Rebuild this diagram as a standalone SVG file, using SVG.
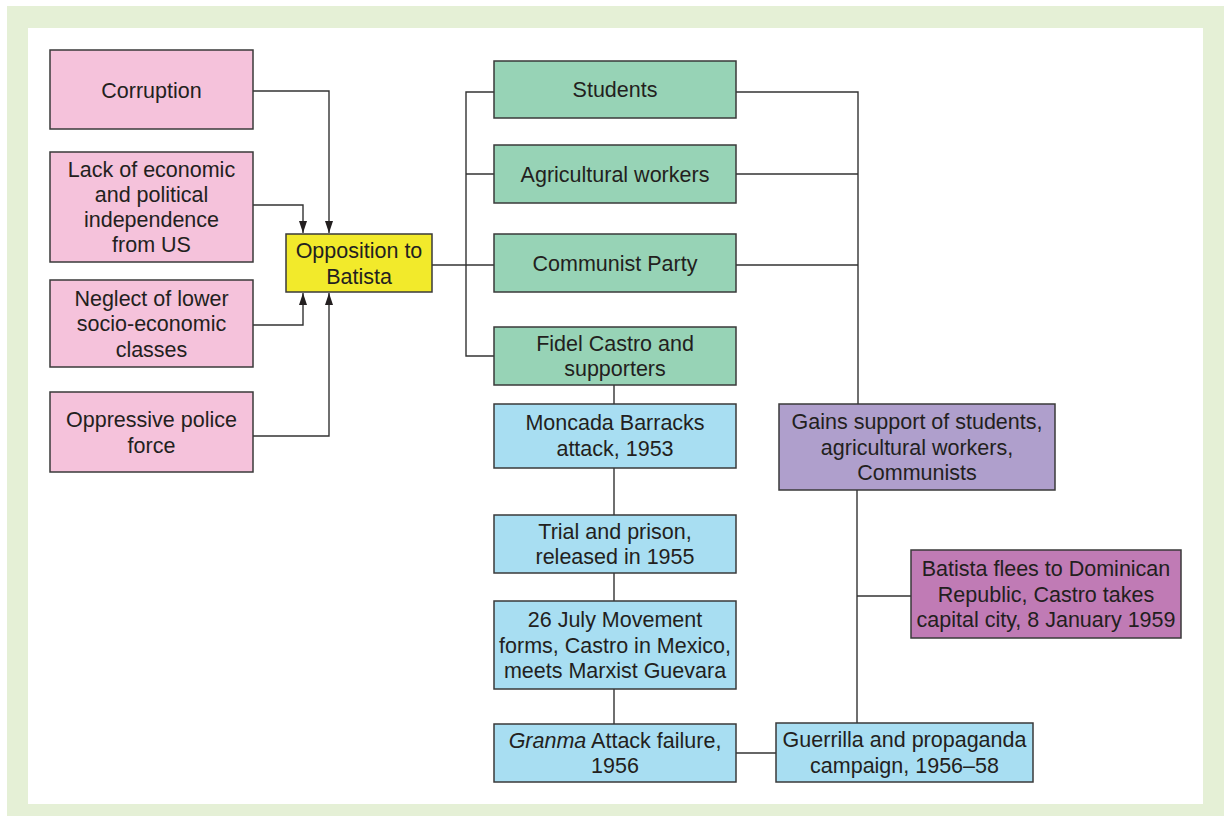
<svg xmlns="http://www.w3.org/2000/svg" width="1226" height="816" viewBox="0 0 1226 816">
<defs>
<style>
.box{stroke:#3a3a3a;stroke-width:1.5}
.pink{fill:#f5c2db}
.yellow{fill:#f2ea2b}
.green{fill:#97d3b6}
.blue{fill:#a8def2}
.purple{fill:#af9fcc}
.magenta{fill:#c07bb5}
.t{font-family:"Liberation Sans",Arial,sans-serif;font-size:21.5px;fill:#231f20;text-anchor:middle}
.c{fill:none;stroke:#333;stroke-width:1.4}
</style>
<marker id="ah" viewBox="0 0 12 8" refX="12" refY="4" markerWidth="12" markerHeight="8" markerUnits="userSpaceOnUse" orient="auto">
<path d="M0,0 L12,4 L0,8 z" fill="#231f20"/>
</marker>
</defs>
<rect x="7" y="6" width="1217" height="810" fill="#e5f0d6"/>
<rect x="28" y="28" width="1175" height="776" fill="#ffffff"/>

<g id="connectors">
<path class="c" d="M253,91 H329 V233" marker-end="url(#ah)"/>
<path class="c" d="M253,205 H303 V233" marker-end="url(#ah)"/>
<path class="c" d="M253,325 H303 V293" marker-end="url(#ah)"/>
<path class="c" d="M253,436 H329 V293" marker-end="url(#ah)"/>
<path class="c" d="M432,265 H494"/>
<path class="c" d="M494,92 H466 V356 H494 M466,174 H494"/>
<path class="c" d="M736,92 H858 V404 M736,174 H858 M736,265 H858"/>
<path class="c" d="M614,385 V404 M614,468 V515 M614,573 V601 M614,689 V724"/>
<path class="c" d="M736,753 H776"/>
<path class="c" d="M857,490 V723 M857,596 H911"/>
</g>

<g id="corruption">
<rect class="box pink" x="50" y="50" width="203" height="79"/>
<text class="t" x="151.5" y="97.5">Corruption</text>
</g>
<g id="lack">
<rect class="box pink" x="50" y="152" width="203" height="110"/>
<text class="t" x="151.5" y="176.5"><tspan x="151.5">Lack of economic</tspan><tspan x="151.5" dy="25">and political</tspan><tspan x="151.5" dy="25">independence</tspan><tspan x="151.5" dy="25">from US</tspan></text>
</g>
<g id="neglect">
<rect class="box pink" x="50" y="280" width="203" height="87"/>
<text class="t" x="151.5" y="305.5"><tspan x="151.5">Neglect of lower</tspan><tspan x="151.5" dy="25.5">socio-economic</tspan><tspan x="151.5" dy="25.5">classes</tspan></text>
</g>
<g id="oppressive">
<rect class="box pink" x="50" y="392" width="203" height="80"/>
<text class="t" x="151.5" y="427"><tspan x="151.5">Oppressive police</tspan><tspan x="151.5" dy="25.5">force</tspan></text>
</g>
<g id="opposition">
<rect class="box yellow" x="286" y="234" width="146" height="58"/>
<text class="t" x="359" y="258"><tspan x="359">Opposition to</tspan><tspan x="359" dy="25.5">Batista</tspan></text>
</g>
<g id="students">
<rect class="box green" x="494" y="61" width="242" height="57"/>
<text class="t" x="615" y="97">Students</text>
</g>
<g id="agricultural">
<rect class="box green" x="494" y="145" width="242" height="58"/>
<text class="t" x="615" y="181.5">Agricultural workers</text>
</g>
<g id="communist">
<rect class="box green" x="494" y="234" width="242" height="58"/>
<text class="t" x="615" y="270.5">Communist Party</text>
</g>
<g id="fidel">
<rect class="box green" x="494" y="327" width="242" height="58"/>
<text class="t" x="615" y="350.5"><tspan x="615">Fidel Castro and</tspan><tspan x="615" dy="25.5">supporters</tspan></text>
</g>
<g id="moncada">
<rect class="box blue" x="494" y="404" width="242" height="64"/>
<text class="t" x="615" y="430"><tspan x="615">Moncada Barracks</tspan><tspan x="615" dy="25.5">attack, 1953</tspan></text>
</g>
<g id="trial">
<rect class="box blue" x="494" y="515" width="242" height="58"/>
<text class="t" x="615" y="538.5"><tspan x="615">Trial and prison,</tspan><tspan x="615" dy="25.5">released in 1955</tspan></text>
</g>
<g id="july">
<rect class="box blue" x="494" y="601" width="242" height="88"/>
<text class="t" x="615" y="627"><tspan x="615">26 July Movement</tspan><tspan x="615" dy="25.5">forms, Castro in Mexico,</tspan><tspan x="615" dy="25.5">meets Marxist Guevara</tspan></text>
</g>
<g id="granma">
<rect class="box blue" x="494" y="724" width="242" height="58"/>
<text class="t" x="615" y="747.5"><tspan x="615"><tspan font-style="italic">Granma</tspan> Attack failure,</tspan><tspan x="615" dy="25.5">1956</tspan></text>
</g>
<g id="gains">
<rect class="box purple" x="779" y="404" width="276" height="86"/>
<text class="t" x="917" y="429"><tspan x="917">Gains support of students,</tspan><tspan x="917" dy="25.5">agricultural workers,</tspan><tspan x="917" dy="25.5">Communists</tspan></text>
</g>
<g id="batista">
<rect class="box magenta" x="911" y="550" width="270" height="88"/>
<text class="t" x="1046" y="576"><tspan x="1046">Batista flees to Dominican</tspan><tspan x="1046" dy="25.5">Republic, Castro takes</tspan><tspan x="1046" dy="25.5">capital city, 8 January 1959</tspan></text>
</g>
<g id="guerrilla">
<rect class="box blue" x="776" y="723" width="257" height="59"/>
<text class="t" x="904.5" y="747"><tspan x="904.5">Guerrilla and propaganda</tspan><tspan x="904.5" dy="25.5">campaign, 1956–58</tspan></text>
</g>
</svg>
